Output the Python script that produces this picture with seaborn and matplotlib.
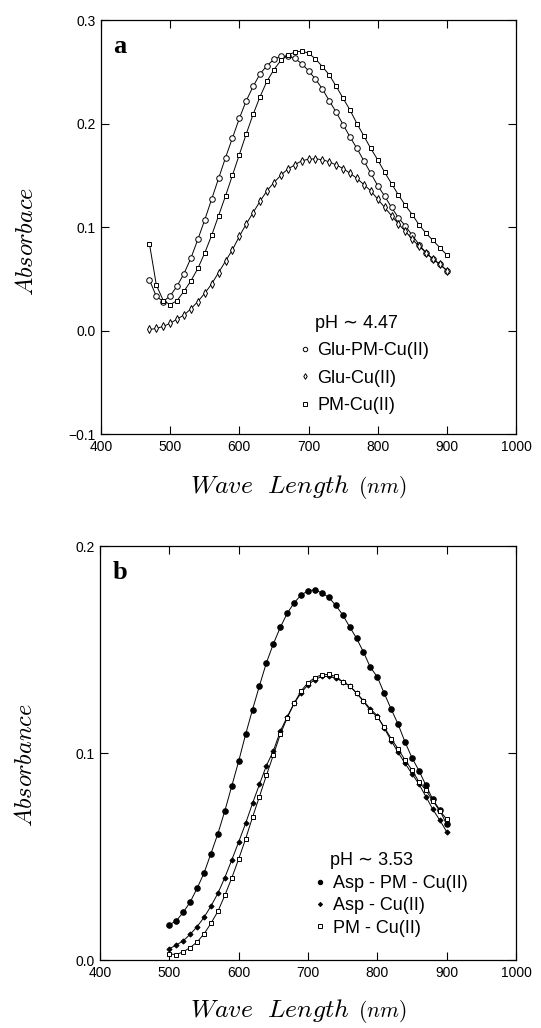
import matplotlib
matplotlib.use("Agg")
import matplotlib.pyplot as plt
from matplotlib.lines import Line2D
import seaborn as sns
import pandas as pd

# ---------------- data: panel a (pH ~ 4.47) ----------------
wl_a = list(range(470, 901, 10))
glu_pm_cu = [0.049, 0.033, 0.028, 0.0335, 0.043, 0.055, 0.070, 0.088, 0.107, 0.127,
             0.147, 0.167, 0.186, 0.205, 0.222, 0.236, 0.248, 0.256, 0.262, 0.265,
             0.265, 0.263, 0.258, 0.251, 0.243, 0.2335, 0.222, 0.211, 0.199, 0.187,
             0.176, 0.164, 0.152, 0.140, 0.130, 0.119, 0.109, 0.101, 0.092, 0.083,
             0.075, 0.069, 0.064, 0.058]
glu_cu = [0.001, 0.002, 0.004, 0.007, 0.011, 0.015, 0.021, 0.028, 0.036, 0.045,
          0.056, 0.067, 0.078, 0.091, 0.103, 0.114, 0.125, 0.135, 0.143, 0.150,
          0.156, 0.160, 0.164, 0.1655, 0.166, 0.165, 0.163, 0.160, 0.1565, 0.152,
          0.147, 0.141, 0.135, 0.127, 0.119, 0.111, 0.103, 0.096, 0.088, 0.0815,
          0.075, 0.069, 0.064, 0.058]
pm_cu_a = [0.084, 0.044, 0.029, 0.025, 0.029, 0.038, 0.048, 0.060, 0.075, 0.092,
           0.111, 0.130, 0.150, 0.170, 0.190, 0.209, 0.226, 0.241, 0.252, 0.261,
           0.266, 0.269, 0.270, 0.268, 0.2625, 0.255, 0.247, 0.236, 0.2245, 0.213,
           0.200, 0.188, 0.176, 0.165, 0.153, 0.142, 0.131, 0.121, 0.112, 0.102,
           0.094, 0.087, 0.080, 0.073]

# ---------------- data: panel b (pH ~ 3.53) ----------------
wl_b = list(range(500, 901, 10))
asp_pm_cu = [0.017, 0.019, 0.023, 0.028, 0.0346, 0.042, 0.0514, 0.061, 0.072, 0.084,
             0.096, 0.109, 0.121, 0.1325, 0.1436, 0.1527, 0.1607, 0.1675, 0.1726, 0.1763,
             0.1784, 0.1788, 0.1774, 0.1752, 0.1714, 0.1668, 0.161, 0.1555, 0.1488, 0.1414,
             0.1368, 0.1288, 0.1212, 0.1139, 0.1053, 0.0977, 0.0915, 0.0845, 0.0776, 0.0725,
             0.0655]
asp_cu = [0.0055, 0.0072, 0.0093, 0.0124, 0.0161, 0.0206, 0.026, 0.0322, 0.0398, 0.0483,
          0.057, 0.066, 0.0757, 0.0849, 0.0939, 0.101, 0.1105, 0.1175, 0.124, 0.129,
          0.133, 0.1355, 0.137, 0.137, 0.1362, 0.1345, 0.1325, 0.129, 0.1253, 0.1213,
          0.118, 0.112, 0.106, 0.1003, 0.095, 0.090, 0.085, 0.079, 0.0728, 0.0676,
          0.062]
pm_cu_b = [0.003, 0.0026, 0.004, 0.006, 0.0087, 0.0126, 0.0177, 0.0235, 0.0312, 0.0396,
           0.0488, 0.0585, 0.069, 0.079, 0.0892, 0.099, 0.109, 0.117, 0.124, 0.130,
           0.134, 0.1365, 0.1378, 0.138, 0.137, 0.1345, 0.1325, 0.129, 0.125, 0.1205,
           0.1175, 0.1125, 0.107, 0.102, 0.0966, 0.0918, 0.0861, 0.0821, 0.077, 0.0721,
           0.0681]

x_ticks = [400, 500, 600, 700, 800, 900, 1000]
y_ticks_a = [-0.1, 0.0, 0.1, 0.2, 0.3]
y_ticks_b = [0.0, 0.1, 0.2]

# ---------------- style ----------------
sns.set_style("ticks")
plt.rcParams["font.family"] = ["Liberation Sans", "DejaVu Sans"]
plt.rcParams["mathtext.fontset"] = "cm"
plt.rcParams["axes.unicode_minus"] = True
for k in ["text.color", "axes.labelcolor", "xtick.color", "ytick.color", "axes.edgecolor"]:
    plt.rcParams[k] = "black"

fig = plt.figure(figsize=(5.41, 10.28), dpi=100)
ax_a = fig.add_axes([0.1867, 0.5778, 0.7671, 0.4027])
ax_b = fig.add_axes([0.1848, 0.0661, 0.7690, 0.4027])

lw = 0.7


def draw(ax, x, y, marker, ms, mfc, label):
    df = pd.DataFrame({"x": x, "y": y})
    sns.lineplot(data=df, x="x", y="y", ax=ax, color="black", lw=lw,
                 marker=marker, markersize=ms, markerfacecolor=mfc,
                 markeredgecolor="black", markeredgewidth=0.7,
                 label=label, legend=False)


series_a = [
    (glu_pm_cu, "o", 4.0, "white", "Glu-PM-Cu(II)"),
    (glu_cu, "d", 3.6, "white", "Glu-Cu(II)"),
    (pm_cu_a, "s", 3.4, "white", "PM-Cu(II)"),
]
series_b = [
    (asp_pm_cu, "o", 4.0, "black", "Asp - PM - Cu(II)"),
    (asp_cu, "D", 2.6, "black", "Asp - Cu(II)"),
    (pm_cu_b, "s", 3.0, "white", "PM - Cu(II)"),
]
for y, m, ms, fc, lab in series_a:
    draw(ax_a, wl_a, y, m, ms, fc, lab)
for y, m, ms, fc, lab in series_b:
    draw(ax_b, wl_b, y, m, ms, fc, lab)


def style_axes(ax, yticks, ylim, ylabel, panel, xlab_y, ylab_y):
    ax.set_xlim(400, 1000)
    ax.set_ylim(*ylim)
    ax.set_xticks(x_ticks)
    ax.set_yticks(yticks)
    ax.set_yticklabels([f"{v:.1f}".replace("-", "\u2212") for v in yticks])
    ax.tick_params(direction="in", length=6, width=0.8, top=True, right=True,
                   labelsize=10, pad=4, colors="black")
    for s in ax.spines.values():
        s.set_linewidth(0.9)
        s.set_color("black")
    ax.set_xlabel("")
    ax.text(0.6, xlab_y, r"$Wave\ \ Length$", transform=ax.transAxes,
            ha="right", va="baseline", fontsize=18.5)
    ax.text(0.62, xlab_y, r"$(nm)$", transform=ax.transAxes,
            ha="left", va="baseline", fontsize=15.5)
    ax.set_ylabel(r"$%s$" % ylabel, fontsize=17.5, labelpad=10)
    ax.yaxis.set_label_coords(-0.152, ylab_y)
    ax.text(0.03, 0.965, panel, transform=ax.transAxes, va="top", ha="left",
            fontsize=19, fontweight="bold", family=["Liberation Serif", "DejaVu Serif"])


style_axes(ax_a, y_ticks_a, (-0.1, 0.3), "Absorbace", "a", -0.142, 0.465)
style_axes(ax_b, y_ticks_b, (0.0, 0.2), "Absorbance", "b", -0.138, 0.47)


def legend(ax, series, title, anchor, spacing, fs):
    handles = [Line2D([], [], ls="none", marker=m, markersize=ms * 0.8, markerfacecolor=fc,
                      markeredgecolor="black", markeredgewidth=0.7)
               for _, m, ms, fc, _ in series]
    labels = [s[4] for s in series]
    leg = ax.legend(handles, labels, title=title, frameon=False, loc="upper left",
                    bbox_to_anchor=anchor, handlelength=0.5, handletextpad=0.45,
                    labelspacing=spacing, fontsize=fs, title_fontsize=fs,
                    borderaxespad=0, borderpad=0, alignment="left")
    leg.get_title().set_ha("left")
    return leg


legend(ax_a, series_a, "   pH \u223c 4.47", (0.48, 0.288), 0.58, 13)
legend(ax_b, series_b, "   pH \u223c 3.53", (0.518, 0.26), 0.3, 13)

fig.savefig("out.png", dpi=100)
